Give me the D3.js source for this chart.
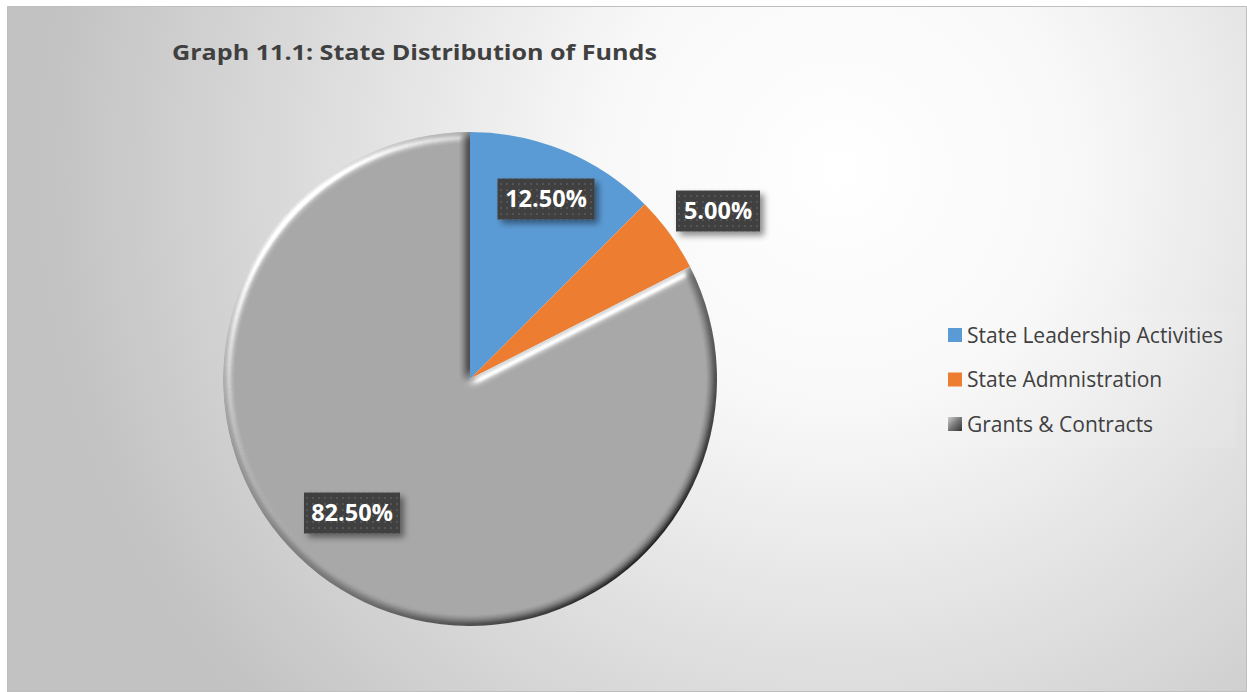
<!doctype html>
<html lang="en">
<head>
<meta charset="UTF-8">
<title>Graph 11.1: State Distribution of Funds</title>
<script src="https://d3js.org/d3.v7.min.js"></script>
<style>
  body { margin: 0; background: #fff; }
  svg { display: block; }
  text { font-family: "Open Sans", "Noto Sans", sans-serif; }
</style>
</head>
<body>
<svg id="chart" width="1247" height="692"></svg>
<script>
const categories = ["State Leadership Activities", "State Admnistration", "Grants & Contracts"];
const shares = [12.5, 5.0, 82.5];
const labelText = ["12.50%", "5.00%", "82.50%"];
const colors = ["#5b9bd5", "#ed7d31", "#ababab"];

const W = 1247, H = 692;
const svg = d3.select("#chart");
const defs = svg.append("defs");

// background gradient
const bg = defs.append("radialGradient").attr("id", "bg")
  .attr("gradientUnits", "userSpaceOnUse")
  .attr("cx", 840).attr("cy", 170).attr("r", 800);
bg.append("stop").attr("offset", "0").attr("stop-color", "#ffffff");
bg.append("stop").attr("offset", "0.3").attr("stop-color", "#f8f8f8");
bg.append("stop").attr("offset", "1").attr("stop-color", "#c2c2c2");

// bevel for the grey slice
const bev = defs.append("filter").attr("id", "bevel")
  .attr("x", "-10%").attr("y", "-10%").attr("width", "120%").attr("height", "120%");
bev.append("feGaussianBlur").attr("in", "SourceAlpha").attr("stdDeviation", 4).attr("result", "blur");
const spec = bev.append("feSpecularLighting").attr("in", "blur")
  .attr("surfaceScale", 5).attr("specularConstant", 0.9).attr("specularExponent", 18)
  .attr("lighting-color", "#ffffff").attr("result", "spec");
spec.append("feDistantLight").attr("azimuth", 225).attr("elevation", 35);
bev.append("feComposite").attr("in", "spec").attr("in2", "SourceAlpha").attr("operator", "in").attr("result", "specIn");
const diff = bev.append("feDiffuseLighting").attr("in", "blur")
  .attr("surfaceScale", 6).attr("diffuseConstant", 1).attr("lighting-color", "#ffffff").attr("result", "diff");
diff.append("feDistantLight").attr("azimuth", 225).attr("elevation", 50);
bev.append("feComposite").attr("in", "diff").attr("in2", "SourceAlpha").attr("operator", "in").attr("result", "diffIn");
bev.append("feBlend").attr("in", "SourceGraphic").attr("in2", "diffIn").attr("mode", "multiply").attr("result", "shaded");
bev.append("feComposite").attr("in", "specIn").attr("in2", "shaded").attr("operator", "arithmetic")
  .attr("k1", 0).attr("k2", 0.8).attr("k3", 1).attr("k4", 0);

// label shadow
const sh = defs.append("filter").attr("id", "shadow")
  .attr("x", "-20%").attr("y", "-20%").attr("width", "150%").attr("height", "160%");
sh.append("feDropShadow").attr("dx", 4).attr("dy", 4).attr("stdDeviation", 3)
  .attr("flood-color", "#000").attr("flood-opacity", 0.45);

// dotted pattern for label boxes
const pat = defs.append("pattern").attr("id", "dots")
  .attr("width", 6).attr("height", 6).attr("patternUnits", "userSpaceOnUse");
pat.append("rect").attr("width", 6).attr("height", 6).attr("fill", "#3f3f3f");
pat.append("rect").attr("x", 2).attr("y", 2).attr("width", 2).attr("height", 2).attr("fill", "#555555");

// legend marker for grey series
const lg = defs.append("linearGradient").attr("id", "greyKey")
  .attr("x1", 0).attr("y1", 0).attr("x2", 1).attr("y2", 1);
lg.append("stop").attr("offset", 0).attr("stop-color", "#d0d0d0");
lg.append("stop").attr("offset", 0.5).attr("stop-color", "#777");
lg.append("stop").attr("offset", 1).attr("stop-color", "#333");

// chart area
svg.append("rect").attr("x", 7.5).attr("y", 6.5).attr("width", W - 8).attr("height", H - 7)
  .attr("fill", "url(#bg)").attr("stroke", "#bfbfbf").attr("stroke-width", 1);

svg.append("text").attr("x", 172).attr("y", 60)
  .attr("font-size", 22).attr("font-weight", "bold").attr("fill", "#404040")
  .attr("textLength", 485).attr("lengthAdjust", "spacingAndGlyphs")
  .text("Graph 11.1: State Distribution of Funds");

// pie
const cx = 470, cy = 379, R = 247;
const pie = d3.pie().sort(null).value(d => d)(shares);
const arc = d3.arc().innerRadius(0).outerRadius(R);
const g = svg.append("g").attr("transform", `translate(${cx},${cy})`);

g.selectAll("path.slice").data(pie).join("path")
  .attr("class", "slice")
  .attr("d", arc)
  .attr("fill", (d, i) => colors[i])
  .attr("filter", (d, i) => i === 2 ? "url(#bevel)" : null);

// data labels
const labelPos = [[546, 199], [718, 211], [352, 513]];
const boxW = [97, 84, 96], boxH = 41;
const lab = svg.append("g").selectAll("g").data(pie).join("g")
  .attr("transform", (d, i) => `translate(${labelPos[i][0]},${labelPos[i][1]})`);
lab.append("rect")
  .attr("x", (d, i) => -boxW[i] / 2).attr("y", -boxH / 2)
  .attr("width", (d, i) => boxW[i]).attr("height", boxH)
  .attr("fill", "url(#dots)").attr("filter", "url(#shadow)");
lab.append("text")
  .attr("text-anchor", "middle").attr("dy", "0.36em")
  .attr("font-size", 23.5).attr("font-weight", "bold").attr("fill", "#fff")
  .text((d, i) => labelText[i]);

// legend
svg.append("rect").attr("x", 936).attr("y", 312).attr("width", 300).attr("height", 136)
  .attr("fill", "#ffffff").attr("fill-opacity", 0.07);
const legend = svg.append("g").attr("transform", "translate(948,335)");
const rows = legend.selectAll("g").data(categories).join("g")
  .attr("transform", (d, i) => `translate(0,${i * 44.5})`);
rows.append("rect").attr("x", 0).attr("y", -7).attr("width", 14).attr("height", 14)
  .attr("fill", (d, i) => i === 2 ? "url(#greyKey)" : colors[i]);
rows.append("text").attr("x", 19).attr("dy", "0.36em")
  .attr("font-size", 21).attr("fill", "#404040")
  .text(d => d);
</script>
</body>
</html>
